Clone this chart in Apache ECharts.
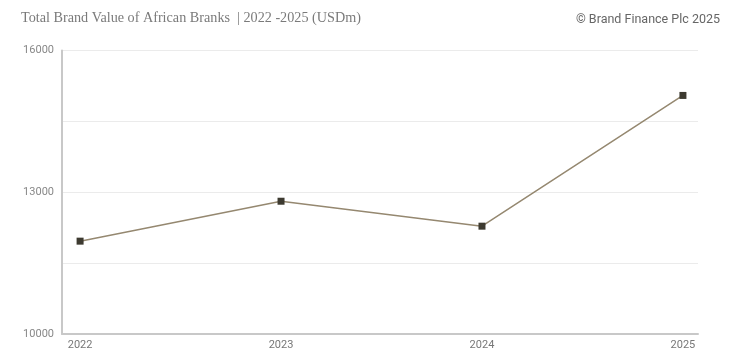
<!DOCTYPE html>
<html><head><meta charset="utf-8">
<script src="https://cdn.jsdelivr.net/npm/echarts@6/dist/echarts.min.js"></script>
<style>html,body{margin:0;padding:0;background:#fff}#c{width:732px;height:359px}</style>
</head><body><div id="c"></div>
<script>
const years = [2022, 2023, 2024, 2025];
const values = [11965, 12810, 12282, 15049];
const yLabelValues = [10000, 13000, 16000];

const chart = echarts.init(document.getElementById('c'));
chart.setOption({
  animation: false,
  title: [
    {text: 'Total Brand Value of African Branks  | 2022 -2025 (USDm)', left: 16, top: 6,
     textStyle: {fontFamily: 'Liberation Serif', fontSize: 14.2, fontWeight: 'normal', color: '#7a7a7a'}},
    {text: '© Brand Finance Plc 2025', right: 7, top: 8,
     textStyle: {fontFamily: 'Roboto', fontSize: 12.5, fontWeight: 'normal', color: '#666'}}
  ],
  grid: {left: 62, right: 34, top: 50.5, bottom: 25},
  xAxis: {
    type: 'value', min: 2021.91, max: 2025.075,
    axisLine: {show: true, lineStyle: {color: '#c8c8c8', width: 2}},
    axisTick: {show: false},
    splitLine: {show: false},
    axisLabel: {customValues: years, color: '#777', fontFamily: 'Roboto', fontSize: 11, margin: 6,
      formatter: v => String(v)}
  },
  yAxis: {
    type: 'value', min: 10000, max: 16000, interval: 1500,
    axisLine: {show: true, lineStyle: {color: '#c8c8c8', width: 2}},
    axisTick: {show: false},
    splitLine: {lineStyle: {color: '#ebebeb', width: 1}},
    axisLabel: {color: '#888', fontFamily: 'Roboto', fontSize: 11, margin: 8,
      formatter: v => yLabelValues.includes(v) ? String(v) : ''}
  },
  series: [{
    type: 'line',
    data: years.map((y, i) => [y, values[i]]),
    symbol: 'rect', symbolSize: 7,
    lineStyle: {color: '#958870', width: 1.5},
    itemStyle: {color: '#3d3a30'}
  }]
});
</script></body></html>
